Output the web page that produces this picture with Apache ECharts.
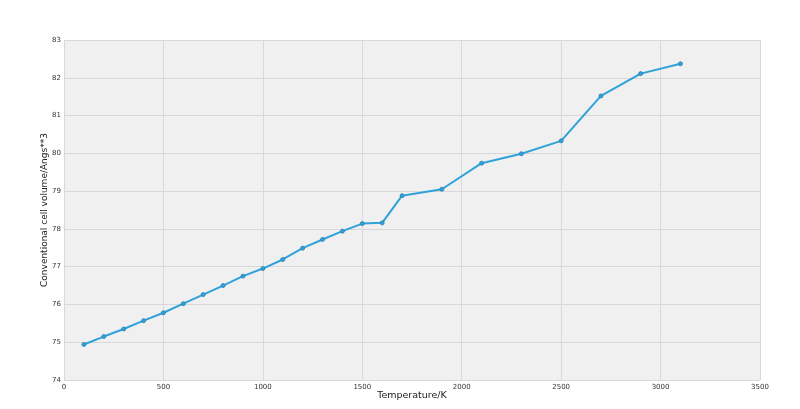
<!DOCTYPE html>
<html>
<head>
<meta charset="utf-8">
<script src="https://cdn.jsdelivr.net/npm/echarts@6/dist/echarts.min.js"></script>
<style>html,body{margin:0;padding:0;background:#fff;}#c{width:800px;height:409px;}</style>
</head>
<body>
<div id="c"></div>
<script>
const temperatures = [100,200,300,400,500,600,700,800,900,1000,1100,1200,1300,1400,1500,1600,1700,1900,2100,2300,2500,2700,2900,3100];
const volumes = [74.94,75.15,75.35,75.57,75.78,76.02,76.26,76.50,76.75,76.95,77.19,77.49,77.72,77.94,78.14,78.16,78.88,79.05,79.74,79.99,80.33,81.52,82.11,82.37];
const xTitle = 'Temperature/K';
const yTitle = 'Conventional cell volume/Angs**3';

const chart = echarts.init(document.getElementById('c'), null, {renderer:'canvas'});
chart.setOption({
  animation:false,
  backgroundColor:'#ffffff',
  grid:{left:64,right:40,top:40,bottom:29,show:true,backgroundColor:'#f0f0f0',borderWidth:0},
  xAxis:{
    type:'value',min:0,max:3500,interval:500,
    name:xTitle,nameLocation:'middle',nameGap:11,nameMoveOverlap:false,
    nameTextStyle:{fontFamily:'DejaVu Sans',fontSize:9.5,color:'#222'},
    axisLine:{show:false},axisTick:{show:false},
    axisLabel:{fontFamily:'DejaVu Sans',fontSize:7,color:'#333',margin:4,formatter:v=>String(v)},
    splitLine:{show:true,lineStyle:{color:'#d8d8d8',width:1}}
  },
  yAxis:{
    type:'value',min:74,max:83,interval:1,
    name:yTitle,nameLocation:'middle',nameGap:15,nameMoveOverlap:false,
    nameTextStyle:{fontFamily:'DejaVu Sans',fontSize:9,color:'#222'},
    axisLine:{show:false},axisTick:{show:false},
    axisLabel:{fontFamily:'DejaVu Sans',fontSize:7,color:'#333',margin:3,formatter:v=>String(v)},
    splitLine:{show:true,lineStyle:{color:'#d8d8d8',width:1}}
  },
  series:[{
    type:'line',
    data:temperatures.map((t,i)=>[t,volumes[i]]),
    symbol:'circle',symbolSize:4,
    lineStyle:{color:'#30a2da',width:2},
    itemStyle:{color:'#30a2da',borderColor:'#2b7fae',borderWidth:0.8}
  }]
});
</script>
</body>
</html>
